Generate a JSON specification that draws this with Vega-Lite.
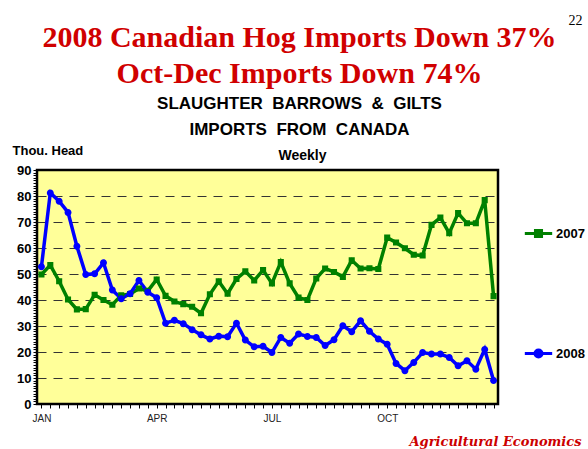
{
"$schema": "https://vega.github.io/schema/vega-lite/v6.json",
"width": 461, "height": 234,
"autosize": "none",
"padding": {"left": 37, "top": 170, "right": 90, "bottom": 45},
"background": "white",
"config": {"view": {"fill": "#FFFF99", "stroke": "black", "strokeWidth": 2.5}, "font": "Liberation Sans"},
"title": {"text": ["2008 Canadian Hog Imports Down 37%", "Oct-Dec Imports Down 74%"], "subtitle": ["SLAUGHTER\u00a0 BARROWS\u00a0 &\u00a0 GILTS", "IMPORTS\u00a0 FROM\u00a0 CANADA"], "font": "Liberation Serif", "fontSize": 30, "fontWeight": "bold", "color": "#D00000", "lineHeight": 36, "subtitleFont": "Liberation Sans", "subtitleFontSize": 17, "subtitleFontWeight": "bold", "subtitleColor": "black", "subtitleLineHeight": 26, "subtitlePadding": 7, "anchor": "middle", "dx": 32, "offset": -125},
"data": {"values": [
{"w":1,"s":"2007","v":49.8},{"w":2,"s":"2007","v":53.4},{"w":3,"s":"2007","v":47.2},{"w":4,"s":"2007","v":40.2},{"w":5,"s":"2007","v":36.4},{"w":6,"s":"2007","v":36.5},{"w":7,"s":"2007","v":42},{"w":8,"s":"2007","v":40},{"w":9,"s":"2007","v":38.2},{"w":10,"s":"2007","v":41.8},{"w":11,"s":"2007","v":42.3},{"w":12,"s":"2007","v":44.4},{"w":13,"s":"2007","v":43.5},{"w":14,"s":"2007","v":47.9},{"w":15,"s":"2007","v":41.6},{"w":16,"s":"2007","v":39.4},{"w":17,"s":"2007","v":38.4},{"w":18,"s":"2007","v":37.4},{"w":19,"s":"2007","v":34.9},{"w":20,"s":"2007","v":42.2},{"w":21,"s":"2007","v":47.2},{"w":22,"s":"2007","v":42.4},{"w":23,"s":"2007","v":48.1},{"w":24,"s":"2007","v":51},{"w":25,"s":"2007","v":47.5},{"w":26,"s":"2007","v":51.5},{"w":27,"s":"2007","v":46.4},{"w":28,"s":"2007","v":54.6},{"w":29,"s":"2007","v":46.4},{"w":30,"s":"2007","v":40.9},{"w":31,"s":"2007","v":40},{"w":32,"s":"2007","v":48.3},{"w":33,"s":"2007","v":52.1},{"w":34,"s":"2007","v":50.8},{"w":35,"s":"2007","v":48.9},{"w":36,"s":"2007","v":55.3},{"w":37,"s":"2007","v":52.1},{"w":38,"s":"2007","v":52.2},{"w":39,"s":"2007","v":51.9},{"w":40,"s":"2007","v":64},{"w":41,"s":"2007","v":62.1},{"w":42,"s":"2007","v":59.9},{"w":43,"s":"2007","v":57.4},{"w":44,"s":"2007","v":57.1},{"w":45,"s":"2007","v":68.9},{"w":46,"s":"2007","v":71.7},{"w":47,"s":"2007","v":65.7},{"w":48,"s":"2007","v":73.4},{"w":49,"s":"2007","v":69.5},{"w":50,"s":"2007","v":69.5},{"w":51,"s":"2007","v":78.4},{"w":52,"s":"2007","v":41.5},
{"w":1,"s":"2008","v":52.8},{"w":2,"s":"2008","v":81.2},{"w":3,"s":"2008","v":78},{"w":4,"s":"2008","v":73.7},{"w":5,"s":"2008","v":60.7},{"w":6,"s":"2008","v":49.8},{"w":7,"s":"2008","v":50.1},{"w":8,"s":"2008","v":54.3},{"w":9,"s":"2008","v":43.8},{"w":10,"s":"2008","v":40.5},{"w":11,"s":"2008","v":42.4},{"w":12,"s":"2008","v":47.5},{"w":13,"s":"2008","v":43},{"w":14,"s":"2008","v":40.9},{"w":15,"s":"2008","v":31.1},{"w":16,"s":"2008","v":32.2},{"w":17,"s":"2008","v":30.9},{"w":18,"s":"2008","v":28.6},{"w":19,"s":"2008","v":26.6},{"w":20,"s":"2008","v":25},{"w":21,"s":"2008","v":26.1},{"w":22,"s":"2008","v":25.9},{"w":23,"s":"2008","v":31.1},{"w":24,"s":"2008","v":24.6},{"w":25,"s":"2008","v":22},{"w":26,"s":"2008","v":22.2},{"w":27,"s":"2008","v":19.8},{"w":28,"s":"2008","v":25.6},{"w":29,"s":"2008","v":23.4},{"w":30,"s":"2008","v":26.9},{"w":31,"s":"2008","v":26},{"w":32,"s":"2008","v":25.6},{"w":33,"s":"2008","v":22.5},{"w":34,"s":"2008","v":24.7},{"w":35,"s":"2008","v":30.1},{"w":36,"s":"2008","v":27.8},{"w":37,"s":"2008","v":32},{"w":38,"s":"2008","v":28},{"w":39,"s":"2008","v":25},{"w":40,"s":"2008","v":23},{"w":41,"s":"2008","v":15.6},{"w":42,"s":"2008","v":12.8},{"w":43,"s":"2008","v":16},{"w":44,"s":"2008","v":19.8},{"w":45,"s":"2008","v":19.2},{"w":46,"s":"2008","v":19.2},{"w":47,"s":"2008","v":17.9},{"w":48,"s":"2008","v":14.7},{"w":49,"s":"2008","v":16.6},{"w":50,"s":"2008","v":13.4},{"w":51,"s":"2008","v":21},{"w":52,"s":"2008","v":9}
]},
"encoding": {
  "color": {"field": "s", "type": "nominal", "scale": {"domain": ["2007", "2008"], "range": ["#008000", "#0000FF"]},
    "legend": {"orient": "none", "legendX": 495, "legendY": 57, "title": null, "symbolSize": 37, "symbolStrokeWidth": 3, "rowPadding": 101, "labelFontSize": 13, "labelFontWeight": "bold", "labelColor": "black", "labelOffset": 11, "padding": 0}}
},
"layer": [
  {"mark": {"type": "line", "strokeWidth": 3.5},
   "encoding": {"x": {"field": "w", "type": "quantitative", "scale": {"domain": [0.5, 52.5], "nice": false, "zero": false},
     "axis": {"orient": "bottom", "values": [1,2,3,4,5,6,7,8,9,10,11,12,13,14,15,16,17,18,19,20,21,22,23,24,25,26,27,28,29,30,31,32,33,34,35,36,37,38,39,40,41,42,43,44,45,46,47,48,49,50,51,52],
       "labelExpr": "datum.value == 1 ? 'JAN' : datum.value == 14 ? 'APR' : datum.value == 27 ? 'JUL' : datum.value == 40 ? 'OCT' : ''",
       "labelOverlap": false, "labelFlush": false, "grid": false, "domain": false, "tickColor": "black", "tickSize": 4, "labelFontSize": 10, "labelColor": "#222222", "labelPadding": 5,
       "title": "Agricultural Economics", "titleX": 372, "titleY": 41, "titleAlign": "left", "titleBaseline": "alphabetic", "titleColor": "#CC0000", "titleFont": "DejaVu Serif", "titleFontSize": 13, "titleFontStyle": "italic", "titleFontWeight": "bold"}},
    "y": {"field": "v", "type": "quantitative", "scale": {"domain": [0, 90], "nice": false, "zero": true},
    "axis": {"values": [0,1,2,3,4,5,6,7,8,9,10,11,12,13,14,15,16,17,18,19,20,21,22,23,24,25,26,27,28,29,30,31,32,33,34,35,36,37,38,39,40,41,42,43,44,45,46,47,48,49,50,51,52,53,54,55,56,57,58,59,60,61,62,63,64,65,66,67,68,69,70,71,72,73,74,75,76,77,78,79,80,81,82,83,84,85,86,87,88,89,90],
      "labelExpr": "datum.value % 10 === 0 ? datum.label : ''", "labelOverlap": false, "labelFlush": false,
      "labelFontSize": 13, "labelFontWeight": "bold", "labelColor": "black", "labelPadding": 2,
      "tickColor": "black", "tickSize": 4, "tickWidth": 1, "domain": false,
      "grid": true, "gridColor": "#333333", "gridDash": [9, 7], "gridWidth": 1,
      "gridOpacity": {"condition": {"test": "datum.value % 10 === 0 && datum.value > 0 && datum.value < 90", "value": 1}, "value": 0},
      "title": "Thou. Head", "titleAngle": 0, "titleX": -25, "titleY": -20, "titleAlign": "left", "titleBaseline": "middle", "titleFontSize": 13, "titleFontWeight": "bold", "titleColor": "black"}}}},
  {"mark": {"type": "point", "filled": true, "size": 37, "opacity": 1},
   "encoding": {"x": {"field": "w", "type": "quantitative",
     "axis": {"orient": "top", "labels": false, "ticks": false, "domain": false, "grid": false, "title": "Weekly", "titleFontSize": 14, "titleFontWeight": "bold", "titleColor": "black", "titlePadding": 8, "titleX": 265}},
    "y": {"field": "v", "type": "quantitative",
     "axis": {"orient": "right", "labels": false, "ticks": false, "domain": false, "grid": false, "title": "22", "titleAngle": 0, "titleX": 77, "titleY": -150, "titleAlign": "center", "titleBaseline": "middle", "titleFont": "Liberation Serif", "titleFontSize": 14, "titleFontWeight": "normal", "titleColor": "black"}},
    "shape": {"field": "s", "type": "nominal", "scale": {"domain": ["2007", "2008"], "range": ["M-4.5,0H4.5M-1,-1H1V1H-1Z", "M-4.5,0H4.5M1.15,0A1.15,1.15,0,1,1,-1.15,0A1.15,1.15,0,1,1,1.15,0Z"]}}}}
],
"resolve": {"axis": {"x": "independent", "y": "independent"}}
}
